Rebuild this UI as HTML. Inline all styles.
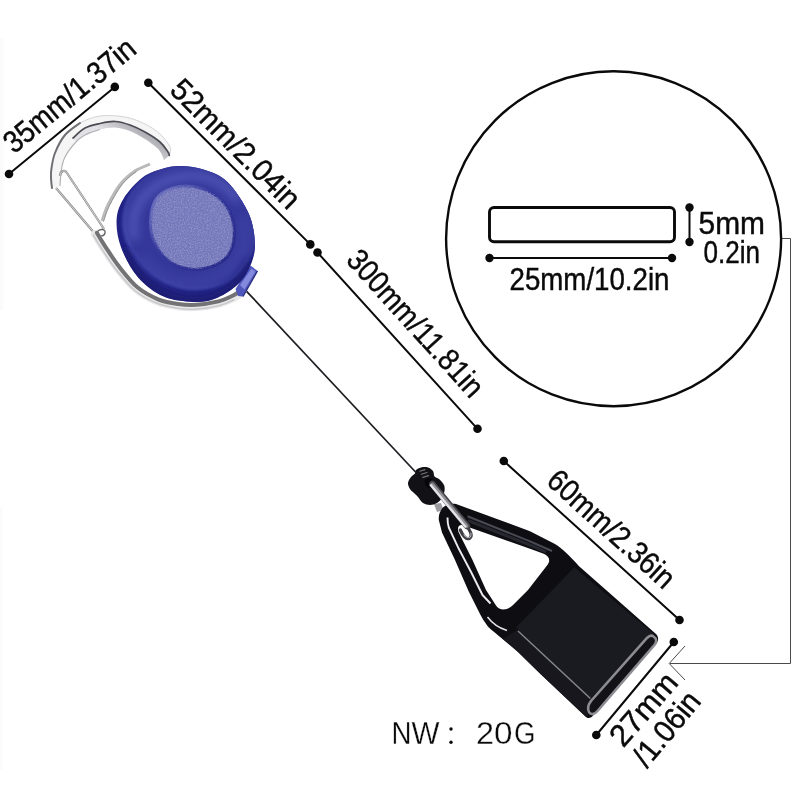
<!DOCTYPE html>
<html>
<head>
<meta charset="utf-8">
<title>Retractable lighter holder dimensions</title>
<style>
html,body{margin:0;padding:0;background:#fff;}
body{width:800px;height:800px;overflow:hidden;font-family:"Liberation Sans",sans-serif;}
svg{display:block;will-change:transform;}
text{font-family:"Liberation Sans",sans-serif;fill:#0a0a0a;}
.dim{font-size:31px;stroke:#0a0a0a;stroke-width:.45px;}
.ln{stroke:#0a0a0a;stroke-width:2;fill:none;stroke-linecap:round;}
.dot{fill:#0a0a0a;}
</style>
</head>
<body>
<svg width="800" height="800" viewBox="0 0 800 800">
<defs>
<linearGradient id="gHook" x1="150" y1="120" x2="130" y2="150" gradientUnits="userSpaceOnUse">
  <stop offset="0" stop-color="#8e8e96"/><stop offset=".45" stop-color="#b4b4ba"/><stop offset="1" stop-color="#e2e2e6"/>
</linearGradient>
<clipPath id="cReel"><path d="M180.8 166.0 C188.0 166.2 197.2 167.3 205.0 170.0 C212.8 172.7 220.2 174.7 227.5 182.0 C234.8 189.3 244.2 203.2 248.8 213.8 C253.3 224.3 255.0 236.4 255.0 245.6 C255.0 254.8 251.9 262.3 248.8 269.0 C245.6 275.7 241.7 281.0 236.0 286.0 C230.3 291.0 221.8 296.1 214.8 298.8 C207.7 301.4 202.0 302.4 193.5 302.0 C185.0 301.6 173.0 300.7 163.8 296.6 C154.5 292.5 145.3 285.6 138.2 277.5 C131.2 269.4 124.9 257.3 121.2 247.8 C117.6 238.2 116.2 228.1 116.6 220.0 C117.0 211.9 119.1 206.0 123.4 198.9 C127.7 191.8 136.1 182.6 142.5 177.6 C148.9 172.6 155.2 170.9 161.6 169.0 C168.0 167.1 173.5 165.8 180.8 166.0Z"/></clipPath>
<clipPath id="cDisc"><path d="M150.6 220.1 C150.9 213.0 152.7 204.2 156.3 198.9 C159.9 193.6 166.1 190.3 172.2 188.2 C178.4 186.2 186.4 185.4 193.5 186.5 C200.6 187.6 208.7 190.4 214.8 194.6 C220.8 198.8 226.3 204.9 229.6 211.6 C232.9 218.3 234.7 227.6 234.3 235.0 C234.0 242.4 231.5 250.9 227.5 256.2 C223.5 261.6 216.9 264.8 210.5 266.9 C204.1 269.0 196.3 270.1 189.2 269.0 C182.2 267.9 173.8 265.1 168.0 260.5 C162.2 255.9 157.1 248.1 154.2 241.4 C151.3 234.7 150.2 227.2 150.6 220.1Z"/></clipPath>
<linearGradient id="gGroove" x1="155" y1="195" x2="232" y2="262" gradientUnits="userSpaceOnUse">
  <stop offset="0" stop-color="#6a6ebd"/><stop offset=".4" stop-color="#34389c"/><stop offset="1" stop-color="#252786"/>
</linearGradient>
<filter id="b2" x="-20%" y="-20%" width="140%" height="140%"><feGaussianBlur stdDeviation="1.8"/></filter>
<filter id="b4" x="-30%" y="-30%" width="160%" height="160%"><feGaussianBlur stdDeviation="4"/></filter>
<filter id="fGrain" x="0" y="0" width="100%" height="100%">
  <feTurbulence type="fractalNoise" baseFrequency="0.7" numOctaves="2" seed="7" result="n"/>
  <feColorMatrix in="n" type="matrix" values="0 0 0 0 0.56  0 0 0 0 0.57  0 0 0 0 0.82  0 0 0 0.8 -0.30"/>
</filter>
</defs>
<rect width="800" height="800" fill="#ffffff"/>
<rect x="0" y="38" width="3" height="272" fill="#fbfbfb"/>
<rect x="0" y="507" width="2.500" height="263" fill="#fbfbfb"/>

<!-- ===== leader line (thin gray) ===== -->
<g id="leader" fill="none" stroke="#4a4a4a" stroke-width="1">
  <path d="M781.5 238.5 H790.5 V663.5 H670"/>
  <path d="M685 646 L669.2 663.5 L685 680"/>
</g>

<!-- ===== big circle + slot diagram ===== -->
<g id="detail">
  <circle cx="613.6" cy="238.75" r="167.5" fill="none" stroke="#0a0a0a" stroke-width="2.4"/>
  <rect x="489.5" y="207.5" width="185" height="34.300" rx="4.500" ry="4.500" fill="none" stroke="#0a0a0a" stroke-width="2.9"/>
  <line class="ln" x1="489.5" y1="258" x2="672" y2="258"/>
  <circle class="dot" cx="489.5" cy="258" r="4.2"/>
  <circle class="dot" cx="672" cy="258" r="4.2"/>
  <line class="ln" x1="689.5" y1="207.5" x2="689.5" y2="242"/>
  <circle class="dot" cx="689.5" cy="207.5" r="4.2"/>
  <circle class="dot" cx="689.5" cy="242" r="4.2"/>
  <text class="dim" x="509.500" y="290.300" textLength="160" lengthAdjust="spacingAndGlyphs">25mm/10.2in</text>
  <text class="dim" x="698.500" y="234" textLength="66.500" lengthAdjust="spacingAndGlyphs">5mm</text>
  <text class="dim" x="703.500" y="262.800" textLength="56.500" lengthAdjust="spacingAndGlyphs">0.2in</text>
</g>

<!-- ===== dimension lines ===== -->
<g id="dims">
  <line class="ln" x1="9" y1="174" x2="114.8" y2="86.9"/>
  <circle class="dot" cx="9" cy="174" r="4.3"/>
  <circle class="dot" cx="114.8" cy="86.9" r="4.3"/>
  <text class="dim" transform="translate(13.9,154.6) rotate(-39.5)" textLength="161" lengthAdjust="spacingAndGlyphs">35mm/1.37in</text>

  <line class="ln" x1="148.3" y1="82.8" x2="310.3" y2="244.4"/>
  <circle class="dot" cx="148.3" cy="82.8" r="4.3"/>
  <circle class="dot" cx="310.3" cy="244.4" r="4.3"/>
  <text class="dim" transform="translate(168.5,91.5) rotate(45)" textLength="169" lengthAdjust="spacingAndGlyphs">52mm/2.04in</text>

  <line class="ln" x1="317.5" y1="252.5" x2="477.5" y2="428.8"/>
  <circle class="dot" cx="317.5" cy="252.5" r="4.3"/>
  <circle class="dot" cx="477.5" cy="428.8" r="4.3"/>
  <text class="dim" transform="translate(345,261) rotate(47.8)" textLength="187" lengthAdjust="spacingAndGlyphs">300mm/11.81in</text>

  <line class="ln" x1="503.8" y1="461" x2="679.5" y2="620"/>
  <circle class="dot" cx="503.8" cy="461" r="4.3"/>
  <circle class="dot" cx="679.5" cy="620" r="4.3"/>
  <text class="dim" transform="translate(545,483) rotate(42.1)" textLength="160" lengthAdjust="spacingAndGlyphs">60mm/2.36in</text>

  <line class="ln" x1="673.8" y1="642" x2="596.3" y2="735"/>
  <circle class="dot" cx="673.8" cy="642" r="4.3"/>
  <circle class="dot" cx="596.3" cy="735" r="4.3"/>
  <text class="dim" transform="translate(623.300,748.500) rotate(-49)" textLength="86" lengthAdjust="spacingAndGlyphs">27mm</text>
  <text class="dim" transform="translate(647,769) rotate(-50.5)" textLength="87" lengthAdjust="spacingAndGlyphs">/1.06in</text>
</g>

<!-- ===== NW text ===== -->
<g id="nw" font-size="31" stroke="#ffffff" stroke-width=".3">
  <text x="391.500" y="743.8" textLength="20" lengthAdjust="spacingAndGlyphs">N</text>
  <text x="411.500" y="743.8" textLength="28" lengthAdjust="spacingAndGlyphs">W</text>
  <circle cx="451" cy="729" r="1.7" fill="#0a0a0a" stroke="none"/>
  <circle cx="451" cy="742.200" r="1.7" fill="#0a0a0a" stroke="none"/>
  <text x="476" y="743.8" textLength="18" lengthAdjust="spacingAndGlyphs">2</text>
  <text x="494" y="743.8" textLength="18.500" lengthAdjust="spacingAndGlyphs">0</text>
  <text x="514" y="743.8" textLength="21.500" lengthAdjust="spacingAndGlyphs">G</text>
</g>

<!-- ===== cord ===== -->
<line x1="246.6" y1="291.3" x2="416" y2="472.500" stroke="#1c1c20" stroke-width="1.7"/>

<!-- ===== carabiner ===== -->
<g id="carabiner">
  <!-- thin back arm -->
  <path d="M102.0 221.0 C103.0 218.3 104.9 211.2 108.0 205.0 C111.1 198.8 116.1 189.7 120.6 184.0 C125.1 178.3 130.1 174.3 135.0 171.0 C139.9 167.7 147.5 165.2 150.0 164.0" fill="none" stroke="#b9b9b9" stroke-width="3"/>
  <path d="M103.5 221.5 C104.5 218.8 106.4 211.7 109.5 205.5 C112.6 199.3 117.6 190.2 122.1 184.5 C126.6 178.8 131.6 174.8 136.5 171.5" fill="none" stroke="#8e8e8e" stroke-width="1"/>
  <!-- top hook band -->
  <path d="M52.0 188.0 C51.8 186.3 51.1 181.3 51.0 178.0 C50.9 174.7 50.8 172.2 51.5 168.0 C52.2 163.8 52.8 158.5 55.0 153.0 C57.2 147.5 60.8 140.0 65.0 135.0 C69.2 130.0 74.2 126.2 80.0 123.0 C85.8 119.8 92.5 117.0 100.0 116.0 C107.5 115.0 117.5 115.7 125.0 117.0 C132.5 118.3 139.2 121.2 145.0 124.0 C150.8 126.8 155.8 130.2 160.0 134.0 C164.2 137.8 168.4 143.5 170.0 147.0 C171.6 150.5 169.6 153.7 169.5 155.0 L164.0 160.0 C163.5 158.8 162.3 155.2 161.0 153.0 C159.7 150.8 158.7 149.3 156.0 147.0 C153.3 144.7 149.3 141.7 145.0 139.0 C140.7 136.3 135.0 132.9 130.0 131.0 C125.0 129.1 120.0 127.8 115.0 127.5 C110.0 127.2 105.0 128.2 100.0 129.5 C95.0 130.8 89.2 132.8 85.0 135.0 C80.8 137.2 78.3 139.3 75.0 143.0 C71.7 146.7 67.2 152.7 65.0 157.0 C62.8 161.3 62.3 164.2 61.5 169.0 C60.7 173.8 60.2 183.2 60.0 186.0Z" fill="#f5f5f6"/>
  <path d="M65.0 135.0 C67.5 133.0 74.2 126.2 80.0 123.0 C85.8 119.8 92.5 117.0 100.0 116.0 C107.5 115.0 117.5 115.7 125.0 117.0 C132.5 118.3 139.2 121.2 145.0 124.0 C150.8 126.8 155.8 130.2 160.0 134.0 C164.2 137.8 168.4 143.5 170.0 147.0 C171.6 150.5 169.6 153.7 169.5 155.0" fill="none" stroke="#d4d4d8" stroke-width="1"/>
  <path d="M73.0 138.0 C75.0 136.3 80.5 130.4 85.0 128.0 C89.5 125.6 95.0 124.6 100.0 123.5 C105.0 122.4 110.0 121.2 115.0 121.5 C120.0 121.8 125.0 123.2 130.0 125.0 C135.0 126.8 140.0 129.2 145.0 132.0 C150.0 134.8 156.2 138.7 160.0 142.0 C163.8 145.3 166.4 149.8 168.0 152.0 C169.6 154.2 169.1 154.9 169.3 155.5 L164.0 160.0 C163.5 158.8 162.3 155.2 161.0 153.0 C159.7 150.8 158.7 149.3 156.0 147.0 C153.3 144.7 149.3 141.7 145.0 139.0 C140.7 136.3 135.0 132.9 130.0 131.0 C125.0 129.1 120.0 127.8 115.0 127.5 C110.0 127.2 105.0 128.2 100.0 129.5 C95.0 130.8 89.0 132.9 85.0 135.0 C81.0 137.1 77.5 140.8 76.0 142.0Z" fill="url(#gHook)"/>
  <path d="M73.0 138.0 C75.0 136.3 80.5 130.4 85.0 128.0 C89.5 125.6 95.0 124.6 100.0 123.5 C105.0 122.4 110.0 121.2 115.0 121.5 C120.0 121.8 125.0 123.2 130.0 125.0 C135.0 126.8 140.0 129.2 145.0 132.0 C150.0 134.8 156.2 138.7 160.0 142.0 C163.8 145.3 166.4 149.8 168.0 152.0 C169.6 154.2 169.1 154.9 169.3 155.5" fill="none" stroke="#4b4b54" stroke-width="1.700" stroke-linecap="round"/>
  <path d="M52.0 188.0 C51.8 186.3 51.1 181.3 51.0 178.0 C50.9 174.7 50.8 172.2 51.5 168.0 C52.2 163.8 52.8 158.5 55.0 153.0 C57.2 147.5 60.8 140.0 65.0 135.0 C69.2 130.0 77.5 125.0 80.0 123.0" fill="none" stroke="#707074" stroke-width="2" stroke-linecap="round"/>
  <path d="M100.0 129.5 C97.5 130.4 89.2 132.8 85.0 135.0 C80.8 137.2 78.3 139.3 75.0 143.0 C71.7 146.7 67.2 152.7 65.0 157.0 C62.8 161.3 62.3 164.2 61.5 169.0 C60.7 173.8 60.2 183.2 60.0 186.0" fill="none" stroke="#b4b4b8" stroke-width="1.200"/>
  <!-- gate wires -->
  <path d="M56 188 L96 235" stroke="#8a8a8a" stroke-width="2.2" fill="none"/>
  <path d="M56 188 L96 235" stroke="#e4e4e4" stroke-width="0.8" fill="none"/>
  <path d="M60 176 C60 171 65 169 67 173 L104 229" stroke="#8a8a8a" stroke-width="2.2" fill="none"/>
  <path d="M60 176 C60 171 65 169 67 173 L104 229" stroke="#e4e4e4" stroke-width="0.8" fill="none"/>
  <path d="M97 232 C100 228 106 229 105 233 C104 237 98 237 97 232Z" fill="none" stroke="#666" stroke-width="1.4"/>
  <!-- lower arm -->
  <path d="M95.0 234.0 C96.3 236.2 99.3 241.4 103.0 247.0 C106.7 252.6 111.5 260.5 117.0 267.5 C122.5 274.5 129.3 283.4 136.0 289.0 C142.7 294.6 150.4 298.4 157.3 301.3 C164.2 304.2 171.0 305.2 177.6 306.2 C184.2 307.1 189.8 307.4 196.7 307.0 C203.6 306.600 212.900 305.0 219.0 303.500 C225.100 302.0 229.700 299.500 233.0 298.0 C236.300 296.500 238.0 295.100 239.0 294.500" fill="none" stroke="#e9e9ea" stroke-width="8" stroke-linecap="round"/>
  <path d="M96.9 232.8 C98.2 235.0 101.2 240.2 104.8 245.8 C108.5 251.3 113.3 259.2 118.7 266.1 C124.2 273.1 130.8 281.8 137.4 287.3 C144.0 292.8 151.4 296.5 158.1 299.3 C164.9 302.1 171.5 303.1 177.9 304.0 C184.3 304.9 189.8 305.2 196.6 304.8 C203.3 304.4 212.5 302.8 218.5 301.4 C224.4 299.9 228.9 297.5 232.1 296.0 C235.3 294.5 236.9 293.2 237.9 292.6" fill="none" stroke="#737376" stroke-width="4" stroke-linecap="round"/>
  <path d="M93.3 235.0 C94.6 237.2 97.6 242.5 101.3 248.1 C105.0 253.7 109.9 261.7 115.4 268.7 C121.0 275.8 127.9 284.8 134.7 290.5 C141.6 296.3 149.4 300.2 156.5 303.1 C163.6 306.1 170.6 307.2 177.3 308.2 C184.0 309.2 189.8 309.5 196.8 309.0 C203.9 308.5 213.3 307.0 219.5 305.4 C225.6 303.9 230.4 301.4 233.8 299.8" fill="none" stroke="#c9c9cc" stroke-width="1.6" stroke-linecap="round"/>
</g>

<!-- ===== blue reel ===== -->
<g id="reel">
  <!-- tab -->
  <path d="M235.500 289 L250.500 265.500 L257.500 271 L243 296.500 L238 296Z" fill="#4f57bd"/>
  <path d="M240 285 L251.500 268.500 L255.500 271.500 L244.500 289.500Z" fill="#8389dc"/>
  <path d="M257.500 271 L243 296.500" stroke="#2c2f7c" stroke-width="1.300"/>
  <g clip-path="url(#cReel)">
    <rect x="100" y="150" width="170" height="170" fill="#202183"/>
    <!-- lower-left rim glint between top & side -->
    <ellipse cx="188" cy="229" rx="67.6" ry="58.6" transform="rotate(30 188 229)" fill="#4247ab" filter="url(#b2)"/>
    <!-- top surface -->
    <ellipse cx="190.500" cy="226" rx="67.6" ry="58.6" transform="rotate(30 190.5 226)" fill="#34389a" filter="url(#b2)"/>
    <!-- crest highlight upper-left -->
    <path d="M134 236 C128 206 150 180 186 176 C208 174 226 184 236 198" fill="none" stroke="#4d53b3" stroke-width="9" stroke-linecap="round" filter="url(#b4)"/>
    <!-- right/bottom crest, slightly lighter -->
    <path d="M244 222 C250 250 232 276 200 282 C176 286 156 276 144 260" fill="none" stroke="#3c40a3" stroke-width="8" stroke-linecap="round" filter="url(#b4)"/>
    <!-- bottom shadow -->
    <path d="M122 250 C136 284 166 302 196 302 C222 300 244 284 252 262" fill="none" stroke="#1a1b70" stroke-width="9" filter="url(#b4)"/>
  </g>
  <!-- inner disc -->
  <path d="M150.6 220.1 C150.9 213.0 152.7 204.2 156.3 198.9 C159.9 193.6 166.1 190.3 172.2 188.2 C178.4 186.2 186.4 185.4 193.5 186.5 C200.6 187.6 208.7 190.4 214.8 194.6 C220.8 198.8 226.3 204.9 229.6 211.6 C232.9 218.3 234.7 227.6 234.3 235.0 C234.0 242.4 231.5 250.9 227.5 256.2 C223.5 261.6 216.9 264.8 210.5 266.9 C204.1 269.0 196.3 270.1 189.2 269.0 C182.2 267.9 173.8 265.1 168.0 260.5 C162.2 255.9 157.1 248.1 154.2 241.4 C151.3 234.7 150.2 227.2 150.6 220.1Z" fill="#7376b9" stroke="url(#gGroove)" stroke-width="3"/>
  <g clip-path="url(#cDisc)">
    <rect x="145" y="180" width="95" height="95" filter="url(#fGrain)"/>
  </g>
</g>

<!-- ===== bead ===== -->
<g id="bead">
  <path d="M434 504 L441 503 L443.500 510 L437 512Z" fill="#9c9ca0"/>
  <path d="M408.0 483.0 C408.2 481.0 409.8 478.6 411.0 477.0 C412.2 475.4 414.2 474.7 415.0 473.5 C415.8 472.3 415.0 471.0 416.0 470.0 C417.0 469.0 419.0 467.9 421.0 467.5 C423.0 467.1 426.0 466.9 428.0 467.5 C430.0 468.1 431.9 469.5 433.0 471.0 C434.1 472.5 433.5 475.2 434.5 476.5 C435.5 477.8 437.4 477.6 439.0 479.0 C440.6 480.4 443.1 483.0 444.0 485.0 C444.9 487.0 444.8 488.8 444.5 491.0 C444.2 493.2 443.2 496.0 442.0 498.0 C440.8 500.0 439.0 501.8 437.0 503.0 C435.0 504.2 432.3 505.0 430.0 505.0 C427.7 505.0 425.0 504.3 423.0 503.0 C421.0 501.7 419.5 498.7 418.0 497.0 C416.5 495.3 415.3 494.3 414.0 493.0 C412.7 491.7 411.0 490.7 410.0 489.0 C409.0 487.3 407.8 485.0 408.0 483.0Z" fill="#121216"/>
  <path d="M419.800 471.200 L425 469.600 M421.300 474.300 L427 472.500 M422.800 477.400 L428.600 475.600" stroke="#74747c" stroke-width="1.100" stroke-linecap="round" fill="none"/>
  <ellipse cx="429.500" cy="483" rx="4.500" ry="5.500" transform="rotate(-40 429.5 483)" fill="#07070a"/>
</g>

<!-- ===== black holder ===== -->
<g id="holder">
  <path fill-rule="evenodd" fill="#0d0d12" d="M438.8 520 C438 510 445 502.500 456 504 L530 531.200 L554 543.500 C562 548 570 556 578.800 566 L656 634 C658.500 636.500 659 640 656.500 643.500 L594 714.500 C591 718.500 588 719 585.500 716.500 L540 673.500 L517.500 651.500 L499.500 636.500 C493 631 489 628 487.500 626 C484 621 482 618 480 614 L468.500 591 L455 560 L442 532.500 Z
  M458.500 532 C457 527 459 524 464 525.500 L530 548.800 L543 553.500 C549.500 556 551 560.500 547 565.500 L528 590 L513 605 C508 610.500 499.500 611 496 605.500 L486 590 L472.500 560 Z"/>
  <!-- side face (slightly lighter) -->
  <path d="M517 630 L590.400 698.500 L588 716 L585.500 716.500 L540 673.500 L517.500 651.500 L503 639Z" fill="#17171d"/>
  <!-- flat top panel -->
  <path d="M574.3 567.500 L654.500 634.500 L590.400 698.500 L516 627.500Z" fill="#1a1b21"/>
  <!-- highlight along lower panel edge -->
  <path d="M518 631 L590.400 698.500" stroke="#86868e" stroke-width="1.5" fill="none"/>
  <!-- glossy highlights on arms -->
  <path d="M447.5 517.500 C447.500 522 448 525 448.800 527.500 L458.800 548.800 L471.300 572.500 L482.500 595 L490.500 603.500" stroke="#ececf2" stroke-width="1.900" fill="none" stroke-linejoin="round"/>
  <path d="M487.500 617 C492 623 499 628 507 630.500" stroke="#e0e0e8" stroke-width="1.5" fill="none"/>
  <path d="M467.500 516.300 L530 541.300 L552 551" stroke="#565662" stroke-width="2" fill="none" opacity=".85"/>
  <path d="M468 520.500 L530 545 L546 552" stroke="#33333d" stroke-width="3" fill="none" opacity=".7"/>
  <!-- end opening -->
  <path d="M653.500 636.500 C656.500 638.500 657 641.500 654.800 644.500 L597.500 711 C594.500 714.500 591 715 589.300 712.500 C587.500 709.500 588 705 591 701 L647 638 C649.500 635.500 651.500 635 653.500 636.500Z" fill="#121217" stroke="#8c8c92" stroke-width="2.600"/>
</g>

<!-- ===== split ring (in front of holder) ===== -->
<g id="ring" fill="none" stroke-linecap="round">
  <path d="M465.500 524.500 C470.500 530.500 473 536 469.500 538.300 C466 540.300 462.500 535 460.300 530" stroke="#3e3e44" stroke-width="3.200"/>
  <path d="M470.800 533 C471.600 536 470.500 538 468 537.800 C466.500 537.600 465 536.300 464 534.800" stroke="#b4b4ba" stroke-width="1.100"/>
  <path d="M432.300 484 L467 526" stroke="#46464b" stroke-width="6.600"/>
  <path d="M432.300 484.500 L466.500 526" stroke="#8f8f94" stroke-width="3.800"/>
  <path d="M430.900 485.300 L465.200 526.500" stroke="#e4e4e8" stroke-width="2.400"/>
</g>

</svg>
</body>
</html>
